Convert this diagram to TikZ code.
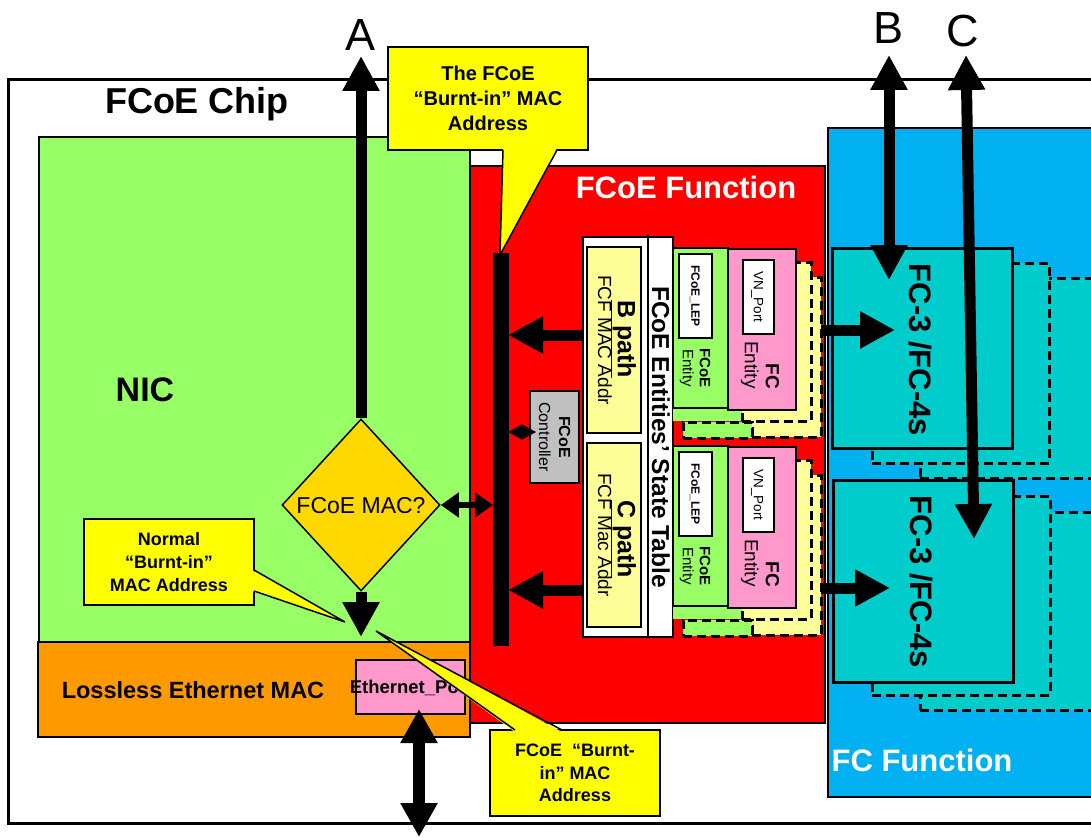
\documentclass[tikz,border=0pt]{standalone}
\usepackage{fontspec}
\setmainfont{Liberation Sans}
\usetikzlibrary{arrows.meta,shapes.geometric,calc}
\definecolor{nicgreen}{HTML}{99FF66}
\definecolor{macorange}{HTML}{FF9900}
\definecolor{fnred}{HTML}{FF0000}
\definecolor{fcblue}{HTML}{00B0F0}
\definecolor{fcteal}{HTML}{00CCCC}
\definecolor{callyellow}{HTML}{FFFF00}
\definecolor{pathyellow}{HTML}{FFFF99}
\definecolor{entpink}{HTML}{FF99CC}
\definecolor{ctrlgray}{HTML}{C0C0C0}
\definecolor{decgold}{HTML}{FFD800}
\newcommand\fsz[2]{\fontsize{#1}{#2}\selectfont}
% box from corners: [style]{name}{x1}{y1}{x2}{y2}
\newcommand\cbox[6][]{\node[box,#1,minimum width={(#5-#3)*1pt},minimum height={(#6-#4)*1pt}] (#2) at ({(#3+#5)/2},{(#4+#6)/2}) {};}
\newcommand\entgroup[1]{%
  \cbox[dbox,fill=pathyellow]{cbp#1}{752}{277}{821}{437}
  \cbox[dbox,fill=nicgreen]{cbg#1}{683}{422}{752}{438}
  \cbox[draw=none,fill=nicgreen]{cag#1}{673}{262}{742}{421}
  \cbox[dbox,fill=pathyellow]{cap#1}{742}{262}{811}{421}
  \cbox[fill=nicgreen]{eg#1}{673}{248}{728}{408}
  \cbox[fill=entpink]{ep#1}{728}{249}{796}{410}
  \cbox[fill=white]{lep#1}{679}{254}{712}{338}
  \cbox[fill=white]{vn#1}{743}{260}{774}{334}
  \node[lbl,rotate=-90,font={\fsz{12}{14}\bfseries}] (leptxt#1) at (lep#1) {FCoE\_LEP};
  \node[lbl,rotate=-90,font={\fsz{13.5}{15}}] (vntxt#1) at (vn#1) {VN\_Port};
  \node[inner sep=0pt,rotate=-90,align=center,font={\fsz{15}{17}}] (egtxt#1) at (695,368) {\bfseries FCoE\\Entity};
  \node[inner sep=0pt,rotate=-90,align=right,font={\fsz{19}{21}}] (eptxt#1) at (760,365) {\bfseries FC\\Entity};
}
\begin{document}
\begin{tikzpicture}[x=1pt,y=-1pt,
  box/.style={draw=black,line width=1.5pt,inner sep=0pt,outer sep=0pt,rectangle},
  dbox/.style={box,dash pattern=on 9pt off 5pt,line width=3pt},
  lbl/.style={inner sep=0pt,outer sep=0pt,text depth=0pt},
  callbox/.style={box,fill=callyellow,align=center,font={\fsz{18}{23}\bfseries}},
  fat/.style={line width=11pt,-{Triangle[width=35pt,length=35pt]}},
  fatboth/.style={line width=11pt,{Triangle[width=35pt,length=35pt]}-{Triangle[width=35pt,length=35pt]}},
  midboth/.style={line width=6pt,{Triangle[width=24pt,length=18pt]}-{Triangle[width=24pt,length=18pt]}},
  tinyboth/.style={line width=1pt,{Triangle[width=15pt,length=14pt]}-{Triangle[width=15pt,length=14pt]}},
  pointer/.style={line width=1.5pt,line join=miter}]
\useasboundingbox (0,0) rectangle (1091,837);
\fill[white] (0,0) rectangle (1091,837);
% chip
\cbox[line width=3pt,fill=white]{chip}{8}{80}{1110}{823}
% NIC side
\cbox[fill=nicgreen]{nic}{39}{137}{470}{642}
\cbox[fill=macorange]{lemac}{38}{642}{470}{737}
\cbox[fill=entpink]{eth}{356}{660}{465}{714}
\node[lbl,font={\fsz{18.5}{20}\bfseries}] (ethtxt) at (411,687) {Ethernet\_Port};
% FCoE function
\cbox[fill=fnred]{fcoefn}{470}{166}{825}{723}
% FC function
\cbox[fill=fcblue]{fcfn}{828}{128}{1110}{797}
% FC-3 stacks
\cbox[dbox,fill=fcteal]{fcub}{920}{278}{1110}{478}
\cbox[dbox,fill=fcteal]{fcua}{872}{263}{1049}{463}
\cbox[line width=3pt,fill=fcteal]{fcu}{832}{248}{1012}{448}
\cbox[dbox,fill=fcteal]{fclb}{920}{512}{1110}{710}
\cbox[dbox,fill=fcteal]{fcla}{872}{496}{1050}{695}
\cbox[line width=3pt,fill=fcteal]{fcl}{833}{480}{1013}{682}
\node[lbl,rotate=-90,font={\fsz{31}{34}\bfseries}] (fcutxt) at (921,350) {FC-3 /FC-4s};
\node[lbl,rotate=-90,font={\fsz{31}{34}\bfseries}] (fcltxt) at (922,582) {FC-3 /FC-4s};
% state table and paths
\cbox[fill=white]{stab}{583}{237}{673}{637}
\coordinate (divtop) at (648,234);
\draw[line width=1.5pt] (divtop) -- (divtop |- stab.south);
\node[lbl,rotate=-90,font={\fsz{24.5}{26}\bfseries}] (stabtxt) at (661,437) {FCoE Entities’ State Table};
\cbox[fill=pathyellow]{pathB}{587}{247}{641}{433}
\cbox[fill=pathyellow]{pathC}{587}{443}{641}{627}
\node[lbl,rotate=-90,font={\fsz{25}{27}\bfseries}] (pBt) at (627,339) {\underline{B path}};
\node[lbl,rotate=-90,font={\fsz{19}{21}}] (pBs) at (605,340) {FCF MAC Addr};
\node[lbl,rotate=-90,font={\fsz{25}{27}\bfseries}] (pCt) at (627,539) {\underline{C path}};
\node[lbl,rotate=-90,font={\fsz{19}{21}}] (pCs) at (605,535) {FCF Mac Addr};
% controller
\cbox[fill=ctrlgray]{ctrl}{530}{391}{579}{483}
\node[inner sep=0pt,rotate=-90,align=center,font={\fsz{16}{20}}] (ctrltxt) at (ctrl) {\bfseries FCoE\\Controller};
% entity groups
\entgroup{B}
\begin{scope}[yshift=-198pt]
\entgroup{C}
\end{scope}
% bar
\cbox[fill=black,line width=0pt]{bar}{493}{253}{508}{645}
% arrows into bar
\coordinate (yB) at (0,335);
\coordinate (yC) at (0,590);
\draw[fat] (stab.west |- yB) -- (bar.east |- yB);
\draw[fat] (stab.west |- yC) -- (bar.east |- yC);
\coordinate (yK) at (0,432);
\draw[tinyboth] (bar.east |- yK) -- ($(ctrl.west |- yK)+(6,0)$);
% entities to FC-3
\coordinate (tipFB) at (895,330);
\coordinate (tipFC) at (890,588);
\draw[fat] (cbpB.east |- tipFB) -- (tipFB);
\draw[fat] (cbpC.east |- tipFC) -- (tipFC);
% decision diamond
\node[diamond,draw=black,line width=1.5pt,fill=decgold,minimum width=158pt,minimum height=172pt,inner sep=0pt] (dia) at (361,505) {};
\node[lbl,font={\fsz{23}{25}}] (diatxt) at (dia) {FCoE MAC?};
\draw[midboth] (dia.east) -- (dia.east -| bar.west);
\coordinate (Atop) at (361,56);
\coordinate (Abot) at (361,637);
\draw[fat] (dia.north) -- (Atop);
\draw[fat] (dia.south) -- (Abot);
% ethernet port arrow
\coordinate (Etop) at (419,709);
\coordinate (Ebot) at (419,837);
\draw[line width=12pt,{Triangle[width=35pt,length=34pt]}-{Triangle[width=35pt,length=34pt]}] (Etop) -- (Ebot);
% B and C external arrows
\coordinate (Btop) at (889,55);
\coordinate (Bbot) at (889,280);
\coordinate (Ctop) at (966,55);
\coordinate (Cbot) at (974,539);
\draw[fatboth] (Btop) -- (Bbot);
\draw[fatboth] (Ctop) -- (Cbot);
% callouts
\node[callbox,minimum width=200pt,minimum height=103pt,font={\fsz{20}{25}\bfseries}] (cal1) at (488,98.5) {The FCoE\\“Burnt-in” MAC\\Address};
\coordinate (tip1) at (500,255);
\fill[callyellow] ($(cal1.south)+(15,-2)$) -- (tip1) -- ($(cal1.south)+(69,-2)$) -- cycle;
\draw[pointer] ($(cal1.south)+(15,0)$) -- (tip1) -- ($(cal1.south)+(69,0)$);
\node[callbox,minimum width=170pt,minimum height=86pt] (cal2) at (169,562) {Normal\\“Burnt-in”\\MAC Address};
\coordinate (tip2) at (345,622);
\fill[callyellow] ($(cal2.east)+(-2,8)$) -- (tip2) -- ($(cal2.east)+(-2,29)$) -- cycle;
\draw[pointer] ($(cal2.east)+(0,8)$) -- (tip2) -- ($(cal2.east)+(0,29)$);
\node[callbox,minimum width=170pt,minimum height=86pt,font={\fsz{18}{22.5}\bfseries}] (cal3) at (575,773) {FCoE\ \ “Burnt-\\in” MAC\\Address};
\coordinate (tip3) at (376,631);
\fill[callyellow] ($(cal3.north)+(-60,2)$) -- (tip3) -- ($(cal3.north)+(-13,2)$) -- cycle;
\draw[pointer] ($(cal3.north)+(-60,0)$) -- (tip3) -- ($(cal3.north)+(-13,0)$);
% titles
\node[lbl,font={\fsz{36}{40}\bfseries}] (chiptxt) at (197,100) {FCoE Chip};
\node[lbl,font={\fsz{34}{38}\bfseries}] (nictxt) at (145,390) {NIC};
\node[lbl,font={\fsz{23.5}{26}\bfseries}] (lemactxt) at (193,690) {Lossless Ethernet MAC};
\node[lbl,font={\fsz{31}{34}\bfseries},text=white] (fcoefntxt) at (686,187) {FCoE Function};
\node[lbl,font={\fsz{31}{34}\bfseries},text=white] (fcfntxt) at (922,760) {FC Function};
\node[lbl,font={\fsz{45}{48}}] (ltA) at (361,35) {A};
\node[lbl,font={\fsz{45}{48}}] (ltB) at (888,28) {B};
\node[lbl,font={\fsz{45}{48}}] (ltC) at (963,31) {C};
\end{tikzpicture}
\end{document}
